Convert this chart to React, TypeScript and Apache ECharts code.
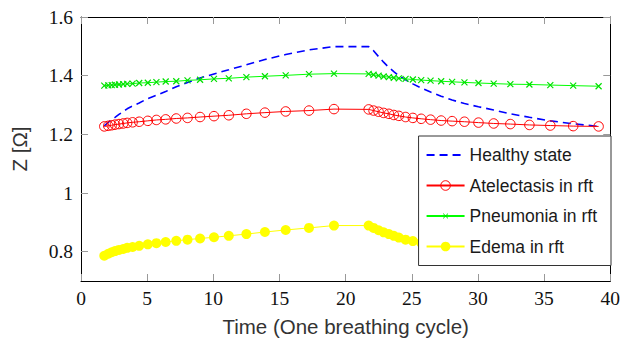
import React, { useEffect, useRef } from "react";
import * as echarts from "echarts";

// Sample instants over one breathing cycle (shared by all curves)
const time = [
  1.76, 2.06, 2.32, 2.57, 2.87, 3.19, 3.49, 3.9, 4.4, 5.05, 5.7, 6.4, 7.2, 8.05, 9.0, 10.05,
  11.17, 12.5, 13.9, 15.47, 17.23, 19.12,
  21.74, 22.11, 22.49, 22.87, 23.27, 23.64, 24.02, 24.53, 25.08, 25.71, 26.42, 27.22, 28.05,
  28.98, 30.04, 31.19, 32.45, 33.89, 35.47, 37.2, 39.12,
];

const healthy = [
  1.229, 1.241, 1.25, 1.258, 1.268, 1.278, 1.287, 1.297, 1.307, 1.322, 1.333, 1.346, 1.362,
  1.377, 1.392, 1.406, 1.42, 1.437, 1.455, 1.472, 1.488, 1.499,
  1.499, 1.485, 1.465, 1.446, 1.428, 1.414, 1.4, 1.386, 1.372, 1.358, 1.344, 1.33, 1.317,
  1.305, 1.294, 1.283, 1.27, 1.258, 1.246, 1.236, 1.227,
];

const atelectasis = [
  1.227, 1.229, 1.231, 1.233, 1.235, 1.237, 1.239, 1.241, 1.243, 1.246, 1.249, 1.251, 1.254,
  1.256, 1.259, 1.262, 1.265, 1.27, 1.274, 1.278, 1.281, 1.286,
  1.285, 1.281, 1.277, 1.273, 1.27, 1.266, 1.263, 1.259, 1.256, 1.253, 1.25, 1.247, 1.245,
  1.243, 1.24, 1.237, 1.235, 1.232, 1.23, 1.228, 1.227,
];

const pneumonia = [
  1.366, 1.367, 1.368, 1.369, 1.37, 1.371, 1.372, 1.373, 1.375, 1.376, 1.378, 1.38, 1.381,
  1.384, 1.386, 1.389, 1.391, 1.395, 1.398, 1.401, 1.405, 1.407,
  1.406, 1.403, 1.4, 1.397, 1.395, 1.393, 1.391, 1.389, 1.387, 1.385, 1.383, 1.381, 1.379,
  1.377, 1.375, 1.373, 1.371, 1.37, 1.368, 1.366, 1.364,
];

const edema = [
  0.786, 0.793, 0.798, 0.802, 0.806, 0.809, 0.813, 0.816, 0.82, 0.825, 0.829, 0.833, 0.837,
  0.841, 0.845, 0.849, 0.854, 0.86, 0.867, 0.874, 0.881, 0.889,
  0.889, 0.881, 0.873, 0.866, 0.86, 0.854, 0.848, 0.841, 0.836, 0.83, 0.825, 0.82, 0.816,
  0.812, 0.808, 0.804, 0.8, 0.797, 0.794, 0.79, 0.786,
];

const yTicks = [0.8, 1, 1.2, 1.4, 1.6];
const seriesNames = ["Healthy state", "Atelectasis in rft", "Pneumonia in rft", "Edema in rft"];

const pairs = (ys: number[]) => time.map((t, i) => [t, ys[i]]);

// Cross-shaped marker; the outer move-to points pad the box so the cross stays small
const crossSymbol = "path://M-5 -5M0 0L10 10M10 0L0 10M15 15";

const serifLabel = { fontFamily: "Liberation Serif", fontSize: 19.5, color: "#111" };
const sansTitle = { fontFamily: "Liberation Sans", fontSize: 20.5, color: "#333" };
const frameLine = { show: true, lineStyle: { color: "#000", width: 1 } };
const innerTick = { show: true, inside: true, length: 7, lineStyle: { color: "#999", width: 1 } };

export default function App() {
  const ref = useRef<HTMLDivElement>(null);

  useEffect(() => {
    if (!ref.current) return;
    const chart = echarts.init(ref.current, undefined, { renderer: "svg" });
    chart.setOption({
      animation: false,
      backgroundColor: "#fff",
      grid: { left: 81, right: 12, top: 17, bottom: 64 },
      xAxis: [
        {
          type: "value",
          min: 0,
          max: 40,
          interval: 5,
          position: "bottom",
          axisLine: { ...frameLine, onZero: false },
          axisTick: innerTick,
          axisLabel: { ...serifLabel, margin: 7 },
          splitLine: { show: false },
          name: "Time (One breathing cycle)",
          nameLocation: "middle",
          nameGap: 35,
          nameTextStyle: sansTitle,
        },
        {
          type: "value",
          min: 0,
          max: 40,
          interval: 5,
          position: "top",
          axisLine: { ...frameLine, onZero: false },
          axisTick: innerTick,
          axisLabel: { show: false },
          splitLine: { show: false },
        },
      ],
      yAxis: [
        {
          type: "value",
          min: 0.7,
          max: 1.6,
          position: "left",
          axisLine: { ...frameLine, onZero: false },
          axisTick: { ...innerTick, customValues: yTicks },
          axisLabel: {
            ...serifLabel,
            margin: 8,
            customValues: yTicks,
            formatter: (v: number) => String(Math.round(v * 10) / 10),
          },
          splitLine: { show: false },
          name: "Z [Ω]",
          nameLocation: "middle",
          nameGap: 51,
          nameTextStyle: sansTitle,
        },
        {
          type: "value",
          min: 0.7,
          max: 1.6,
          position: "right",
          axisLine: { ...frameLine, onZero: false },
          axisTick: { ...innerTick, customValues: yTicks },
          axisLabel: { show: false },
          splitLine: { show: false },
        },
      ],
      legend: {
        orient: "vertical",
        right: 12,
        top: 136,
        backgroundColor: "#fff",
        borderColor: "#333",
        borderWidth: 1,
        borderRadius: 0,
        padding: [10, 14, 10, 7],
        itemWidth: 38,
        itemHeight: 12,
        itemGap: 12.5,
        selectedMode: false,
        textStyle: { fontFamily: "Liberation Sans", fontSize: 17.5, color: "#1a1a1a" },
        data: [
          { name: seriesNames[0], itemStyle: { opacity: 0 } },
          { name: seriesNames[1], itemStyle: { borderWidth: 1 } },
          { name: seriesNames[2], itemStyle: { borderWidth: 1 } },
          { name: seriesNames[3] },
        ],
      },
      series: [
        {
          name: seriesNames[0],
          type: "line",
          data: pairs(healthy),
          symbol: "none",
          smooth: false,
          lineStyle: { color: "#0000ff", width: 1.6, type: [8, 5] },
          itemStyle: { color: "#0000ff" },
          emphasis: { disabled: true },
          z: 2,
        },
        {
          name: seriesNames[1],
          type: "line",
          data: pairs(atelectasis),
          symbol: "circle",
          symbolSize: 9.5,
          lineStyle: { color: "#ff0000", width: 1 },
          itemStyle: { color: "rgba(255,255,255,0)", borderColor: "#ff0000", borderWidth: 1 },
          emphasis: { disabled: true },
          z: 3,
        },
        {
          name: seriesNames[2],
          type: "line",
          data: pairs(pneumonia),
          symbol: crossSymbol,
          symbolSize: 12,
          lineStyle: { color: "#00ff00", width: 1 },
          itemStyle: { color: "rgba(0,0,0,0)", borderColor: "#00e000", borderWidth: 1.2 },
          emphasis: { disabled: true },
          z: 3,
        },
        {
          name: seriesNames[3],
          type: "line",
          data: pairs(edema),
          symbol: "circle",
          symbolSize: 10,
          lineStyle: { color: "#ffff00", width: 1 },
          itemStyle: { color: "#ffff00" },
          emphasis: { disabled: true },
          z: 3,
        },
      ],
    });
    return () => chart.dispose();
  }, []);

  return (
    <div
      ref={ref}
      style={{ position: "fixed", left: 0, top: 0, width: 623, height: 345, background: "#fff" }}
    />
  );
}
